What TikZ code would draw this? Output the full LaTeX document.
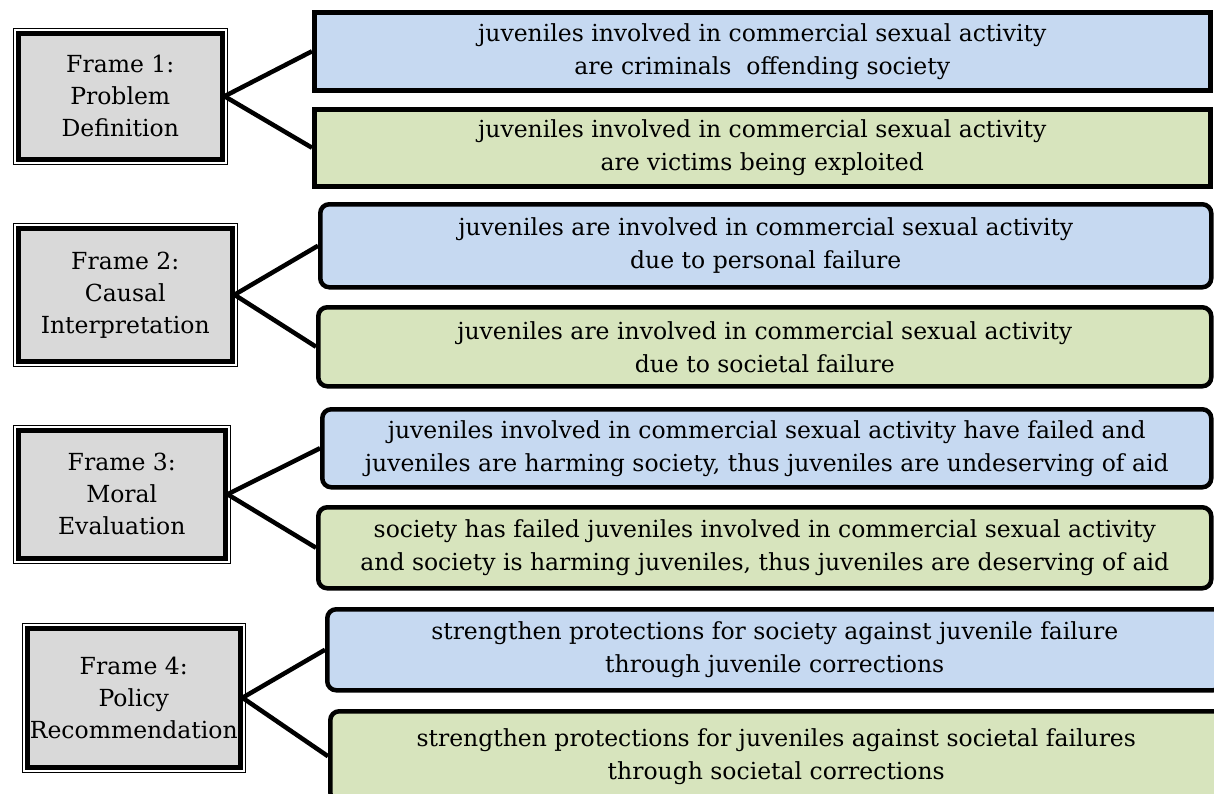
\documentclass[tikz,border=0pt]{standalone}
\usepackage{fontspec}
\setmainfont{DejaVu Serif}
\usepackage{tikz}
\usetikzlibrary{positioning}
\definecolor{framegray}{RGB}{217,217,217}
\definecolor{blue}{RGB}{198,217,241}
\definecolor{green}{RGB}{215,228,189}

\begin{document}
\begin{tikzpicture}[x=1pt, y=-1pt,
    framebox/.style={draw, fill=framegray, line width=4.5pt, anchor=north west,
      align=center, inner sep=0pt, font=\fontsize{23.5}{32}\selectfont,
      preaction={draw, line width=10.5pt},
      preaction={draw=white, line width=8.7pt}},
    claim/.style={draw, line width=4.5pt, anchor=north west, align=center,
      inner sep=0pt, font=\fontsize{23.5}{33}\selectfont},
    victim/.style={claim, fill=green},
    offender/.style={claim, fill=blue},
    link/.style={line width=4.5pt}]
        \useasboundingbox (0,0) rectangle (1214,793);

        % nodes %
        \node[framebox, minimum width=204, minimum height=126] (f1) at (16,31) {Frame 1:\\ Problem\\ Definition};
        \node[framebox, minimum width=214, minimum height=133] (f2) at (16,226) {Frame 2:\\ Causal\\ Interpretation};
        \node[framebox, minimum width=207, minimum height=128] (f3) at (16,428) {Frame 3:\\ Moral\\ Evaluation};
        \node[framebox, minimum width=213, minimum height=139] (f4) at (25,626) {Frame 4:\\ Policy\\ Recommendation};

        \node[offender, minimum width=896, minimum height=78] (b1) at (312,10) {juveniles involved in commercial sexual activity\\ are criminals~ offending society};
        \node[victim, minimum width=896, minimum height=77] (g1) at (312,107) {juveniles involved in commercial sexual activity\\ are victims being exploited};

        \node[offender, rounded corners=9pt, minimum width=891, minimum height=83] (b2) at (318,202) {juveniles are involved in commercial sexual activity\\ due to personal failure};
        \node[victim, rounded corners=9pt, minimum width=893, minimum height=79] (g2) at (316,305) {juveniles are involved in commercial sexual activity\\ due to societal failure};

        \node[offender, rounded corners=9pt, minimum width=889, minimum height=78] (b3) at (320,407) {juveniles involved in commercial sexual activity have failed and\\ juveniles are harming society, thus juveniles are undeserving of aid};
        \node[victim, rounded corners=9pt, minimum width=893, minimum height=81] (g3) at (316,505) {society has failed juveniles involved in commercial sexual activity\\ and society is harming juveniles, thus juveniles are deserving of aid};

        \node[offender, rounded corners=9pt, minimum width=895, minimum height=81] (b4) at (325,607) {strengthen protections for society against juvenile failure\\ through juvenile corrections};
        \node[victim, rounded corners=9pt, minimum width=892, minimum height=90] (g4) at (328,709) {strengthen protections for juveniles against societal failures\\ through societal corrections};

        % edges %
        \draw[link] (f1.east) -- (b1.west);
        \draw[link] (f1.east) -- (g1.west);
        \draw[link] (f2.east) -- (b2.west);
        \draw[link] (f2.east) -- (g2.west);
        \draw[link] (f3.east) -- (b3.west);
        \draw[link] (f3.east) -- (g3.west);
        \draw[link] (f4.east) -- (b4.west);
        \draw[link] (f4.east) -- (g4.west);
      \end{tikzpicture}
\end{document}
